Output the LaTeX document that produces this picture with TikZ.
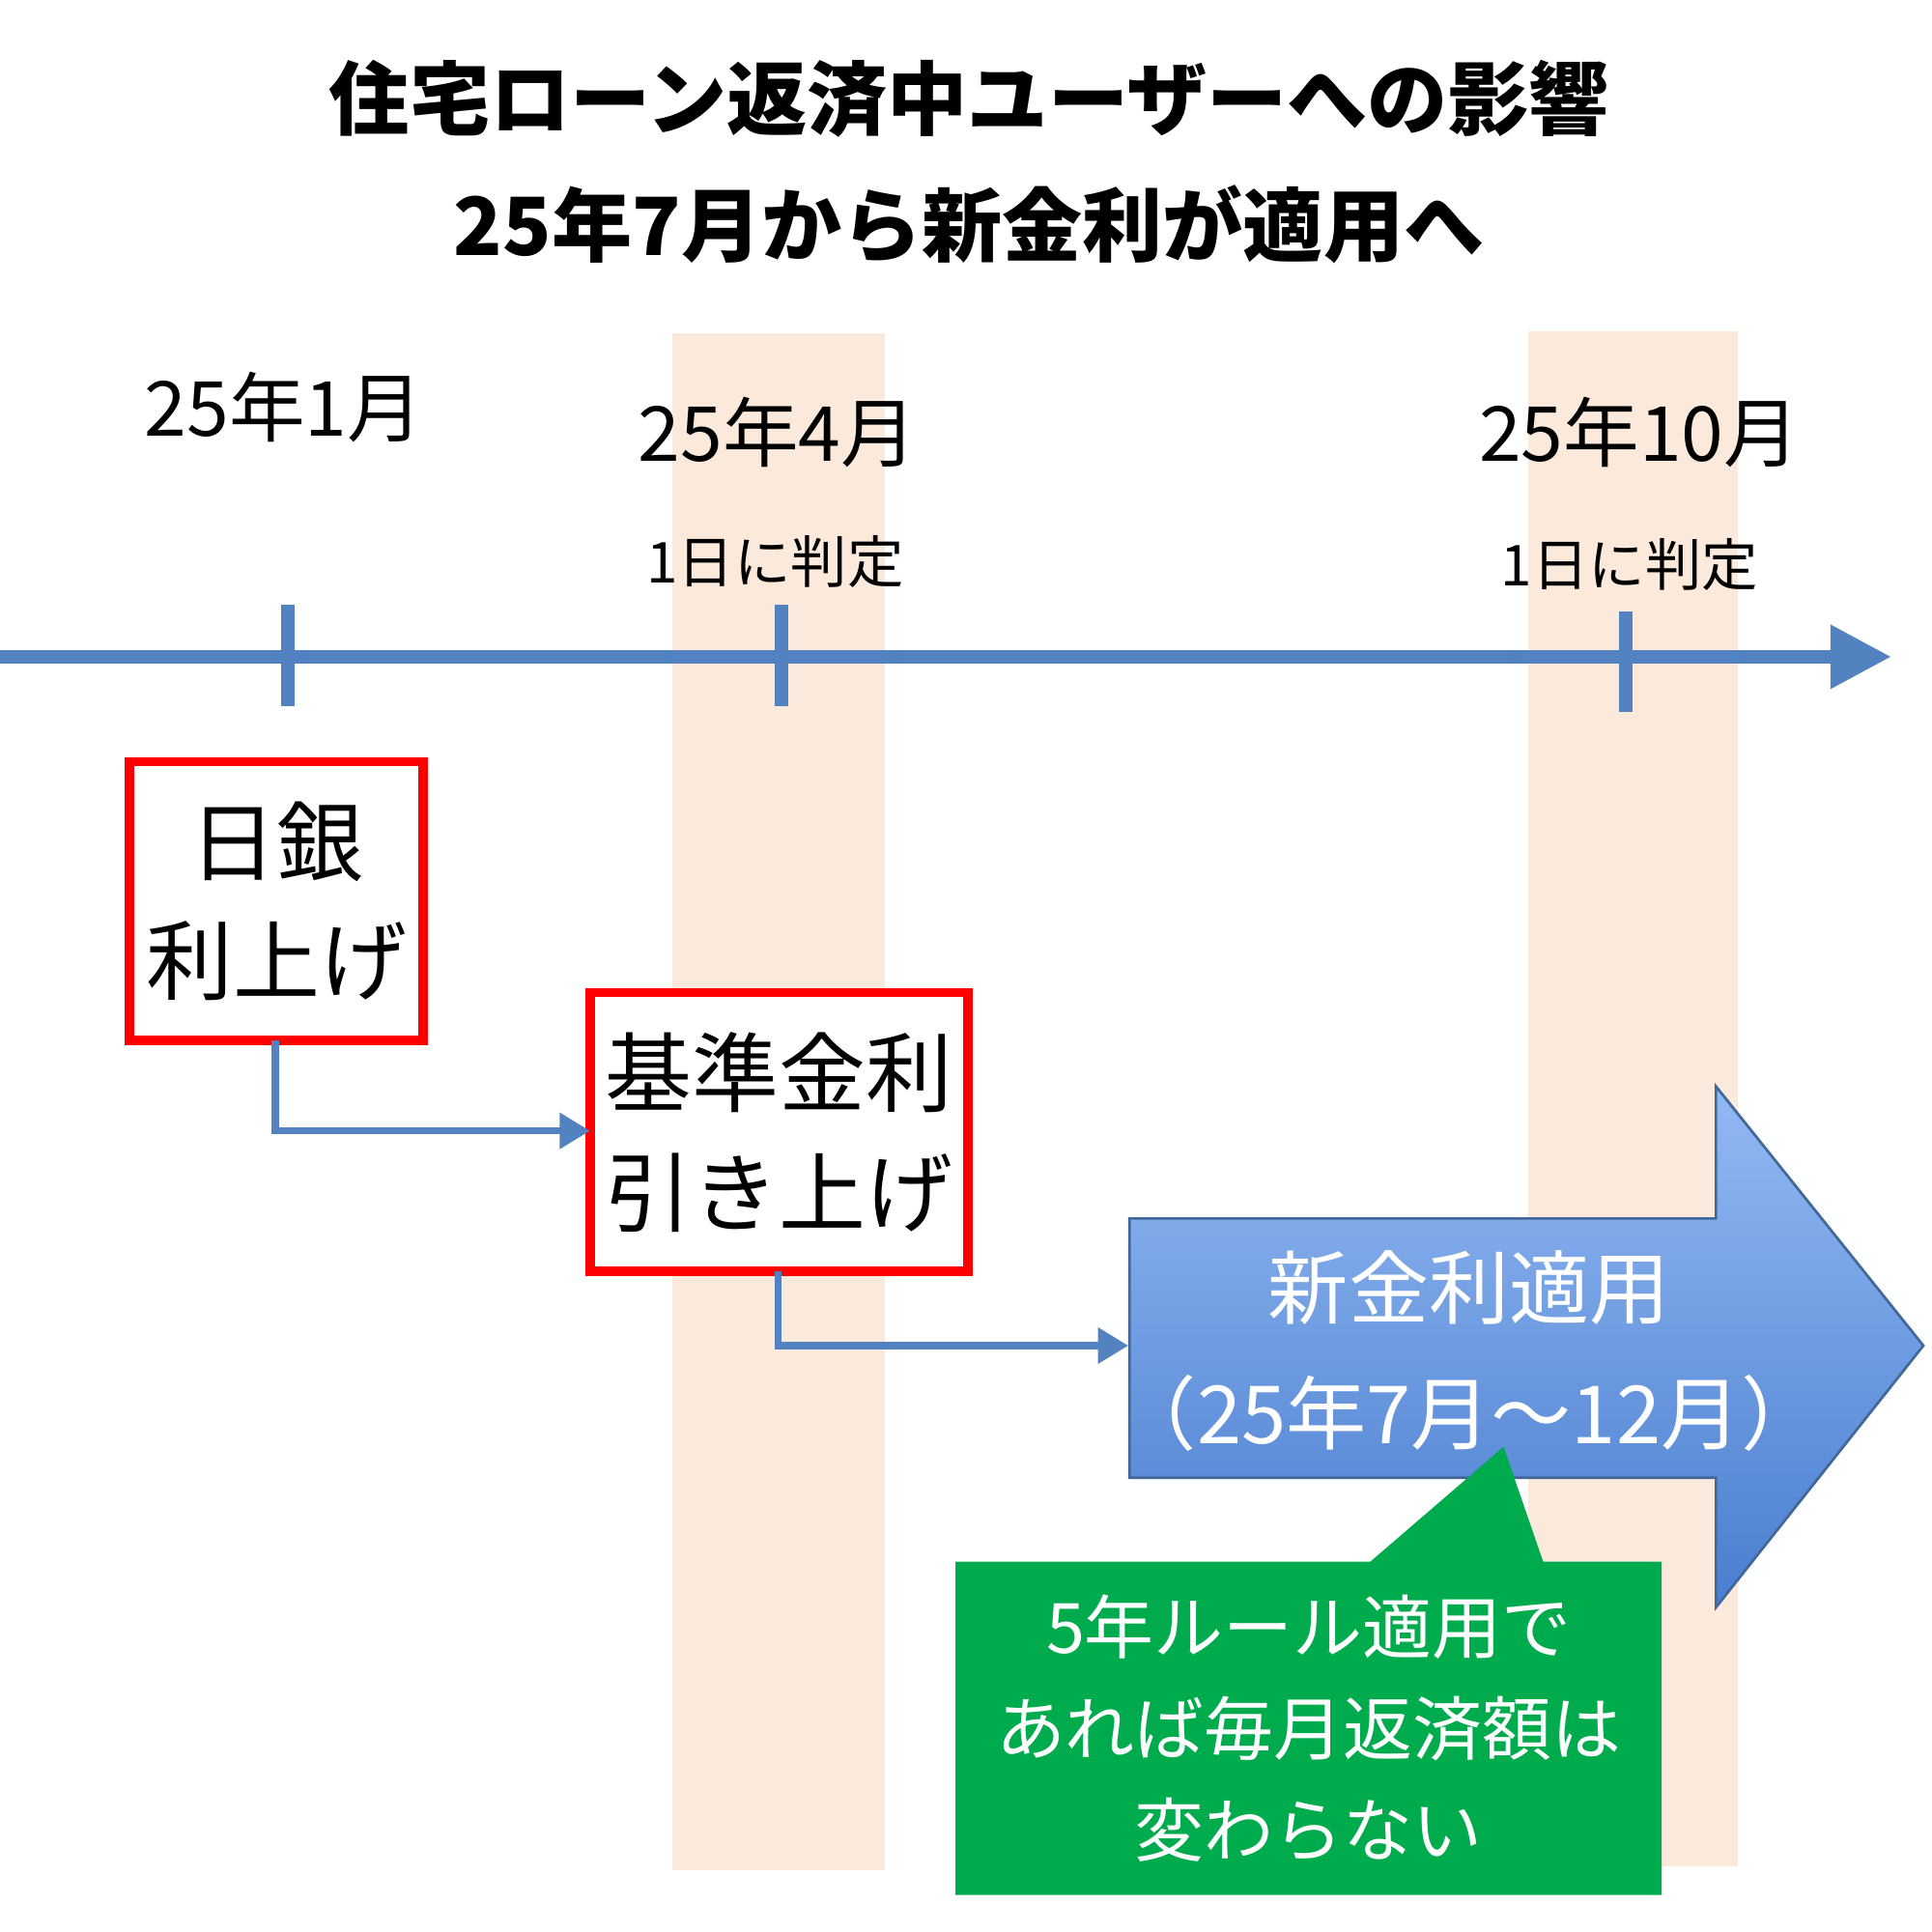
\documentclass[tikz,border=0pt]{standalone}
\usepackage{fontspec}
\setmainfont{Noto Sans CJK JP}
\usetikzlibrary{arrows.meta,shadings}
\definecolor{axisblue}{HTML}{5282BF}
\definecolor{band}{HTML}{FBE9DB}
\definecolor{gr}{HTML}{00AB4E}
\definecolor{bluetop}{HTML}{93B9F3}
\definecolor{bluebot}{HTML}{4A7ECF}
\tikzset{
  redbox/.style={draw=red,line width=2.2pt,fill=white,inner sep=0pt},
  boxtxt/.style={align=center,font=\fontsize{20}{27.5}\selectfont},
  conn/.style={draw=axisblue,line width=1.6pt,-{Triangle[length=7pt,width=8pt]}},
  tickmk/.style={draw=axisblue,line width=3pt},
  datelbl/.style={font=\fontsize{17.5}{22}\selectfont},
  judge/.style={font=\fontsize{13}{16}\selectfont},
  whitetxt/.style={text=white,font=\fontsize{18.5}{22}\selectfont},
  greentxt/.style={text=white,align=center,font=\fontsize{16}{23.3}\selectfont}
}
\begin{document}
\begin{tikzpicture}[x=0.01cm,y=-0.01cm]
\useasboundingbox (0,0) rectangle (1565,1565);
\fill[white] (0,0) rectangle (1565,1565);
% bands
\fill[band] (545,270) rectangle (717,1515);
\fill[band] (1238,268) rectangle (1408,1512);
% title
\node[font=\bfseries\fontsize{18.5}{22}\selectfont] (t1) at (785,80) {住宅ローン返済中ユーザーへの影響};
\node[font=\bfseries\fontsize{18.5}{22}\selectfont] (t2) at (785,182) {25年7月から新金利が適用へ};
% axis
\coordinate (a0) at (0,532);
\coordinate (a1) at (1532,532);
\draw[axisblue,line width=3pt,-{Triangle[length=14pt,width=14pt]}] (a0) -- (a1);
\coordinate (k1a) at (233,490); \coordinate (k1b) at (233,572);
\coordinate (k2a) at (633,490); \coordinate (k2b) at (633,572);
\coordinate (k3a) at (1317,495); \coordinate (k3b) at (1317,577);
\draw[tickmk] (k1a) -- (k1b);
\draw[tickmk] (k2a) -- (k2b);
\draw[tickmk] (k3a) -- (k3b);
% labels
\node[datelbl] (d1) at (230,330) {25年1月};
\node[datelbl] (d2) at (630,350) {25年4月};
\node[datelbl] (d3) at (1328,350) {25年10月};
\node[judge] (j2) at (628,455) {1日に判定};
\node[judge] (j3) at (1320,457) {1日に判定};
% red boxes
\draw[redbox] (105,617) rectangle (343,843);
\node[boxtxt] (b1) at (224,730) {日銀\\利上げ};
\draw[redbox] (478,804) rectangle (784,1030);
\node[boxtxt] (b2) at (631,917) {基準金利\\引き上げ};
\coordinate (b1s) at (223,843);
\coordinate (b1e) at (478,916);
\coordinate (b2s) at (630,1030);
\coordinate (b2e) at (914,1090);
% big arrow
\shade[top color=bluetop,bottom color=bluebot,draw=axisblue!80!black,line width=0.6pt]
  (915,987) -- (1390,987) -- (1390,880) -- (1558,1090) -- (1390,1302) -- (1390,1197) -- (915,1197) -- cycle;
\node[whitetxt] (n1) at (1190,1043) {新金利適用};
\node[whitetxt] (n2) at (1190,1145) {（25年7月～12月）};
\draw[conn] (b1s) |- (b1e);
\draw[conn] (b2s) |- (b2e);
% green callout
\fill[gr] (774,1265) -- (1110,1265) -- (1218,1172) -- (1250,1265) -- (1346,1265) -- (1346,1535) -- (774,1535) -- cycle;
\node[greentxt] (g) at (1060,1400) {5年ルール適用で\\あれば毎月返済額は\\変わらない};
\end{tikzpicture}
\end{document}
